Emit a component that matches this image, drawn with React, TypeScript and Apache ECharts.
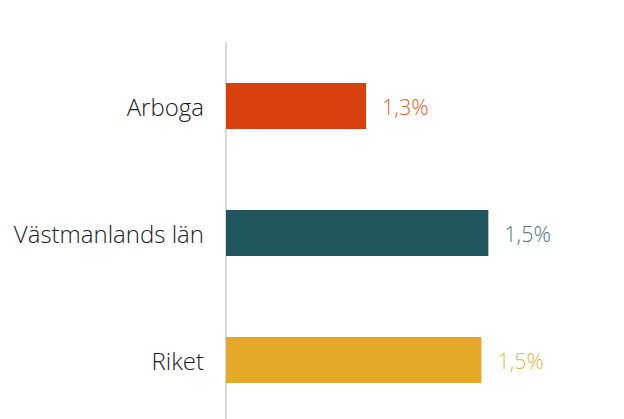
import React, { useEffect, useRef } from "react";
import * as echarts from "echarts";

const categories = ["Arboga", "Västmanlands län", "Riket"];
const values = [1.283, 1.53, 1.516];
const barColors = ["#d9400f", "#1f555c", "#e5a828"];
const labelColors = ["#e5602f", "#4f767b", "#e9b444"];

export default function App() {
  const ref = useRef<HTMLDivElement>(null);
  useEffect(() => {
    if (!ref.current) return;
    const chart = echarts.init(ref.current, null, { renderer: "svg" });
    chart.setOption({
      animation: false,
      backgroundColor: "#ffffff",
      grid: { left: 226, right: 2, top: 42.5, height: 381, containLabel: false },
      xAxis: {
        type: "value",
        min: 1.0,
        max: 1.8,
        show: false,
      },
      yAxis: {
        type: "category",
        data: categories,
        inverse: true,
        axisLine: { show: true, lineStyle: { color: "#d9d9d9", width: 2 } },
        axisTick: { show: false },
        splitLine: { show: false },
        axisLabel: {
          margin: 22,
          fontSize: 24,
          fontFamily: "Open Sans",
          fontWeight: 300,
          color: "#1a1a1a",
        },
      },
      series: [
        {
          type: "bar",
          barWidth: 46,
          data: values.map((v, i) => ({
            value: v,
            itemStyle: { color: barColors[i] },
            label: { color: labelColors[i] },
          })),
          label: {
            show: true,
            position: "right",
            distance: 16,
            fontSize: 21.5,
            fontFamily: "Open Sans",
            fontWeight: 300,
            formatter: (p: any) => p.value.toFixed(1).replace(".", ",") + "%",
          },
        },
      ],
    });
    return () => chart.dispose();
  }, []);
  return <div ref={ref} style={{ width: 624, height: 430, position: "fixed", left: 0, top: 0 }} />;
}
